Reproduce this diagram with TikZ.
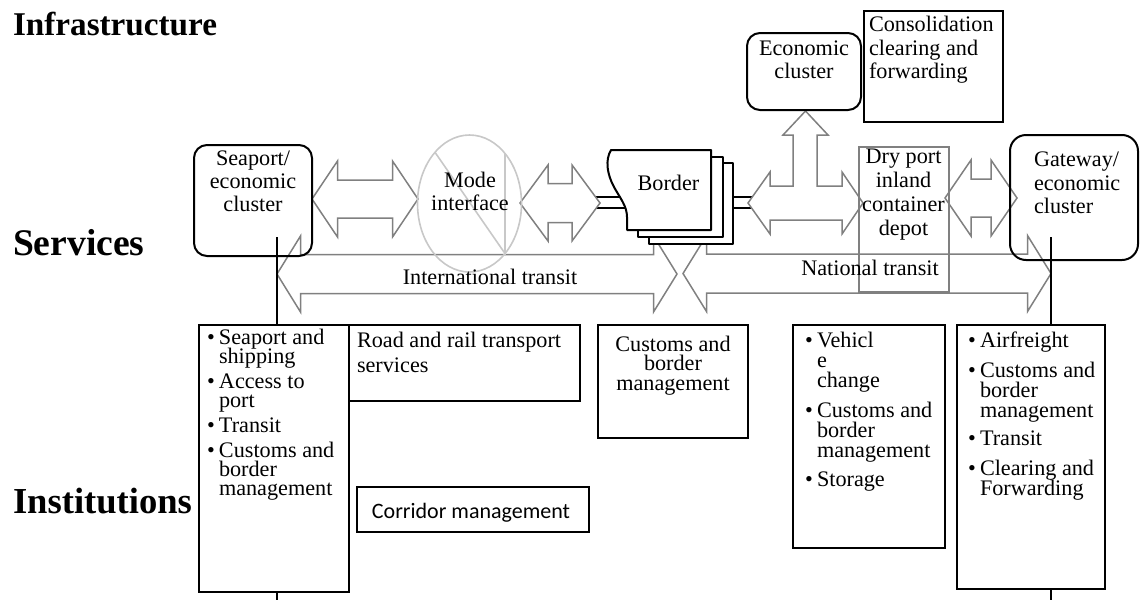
\documentclass[tikz,border=0pt]{standalone}
\usepackage{fontspec}
\setmainfont{Liberation Serif}
\newfontfamily\corridorfont{Carlito}
\usetikzlibrary{shapes.geometric}

\definecolor{arrowgray}{RGB}{128,128,128}
\definecolor{ringgray}{RGB}{200,200,200}

% stacked lines: first line sits on the node's base
\newcommand\LinesL[2]{\vtop{\baselineskip=#1\relax\lineskiplimit=-100pt\lineskip=0pt\halign{##\hfil\cr#2\crcr}}}
\newcommand\LinesC[2]{\vtop{\baselineskip=#1\relax\lineskiplimit=-100pt\lineskip=0pt\halign{\hfil##\hfil\cr#2\crcr}}}
\newcommand\bul{\makebox[6pt][l]{\textbullet}}
\newcommand\ind{\hspace*{6pt}}
\newcommand\gap[1]{\noalign{\vskip#1}}

% rectangle node given by its corners (x1,y1) (x2,y2)
\newcommand\boxnode[6][]{\node[#1, minimum width={(#5-#3)*0.5pt}, minimum height={(#6-#4)*0.5pt}] (#2) at ({(#3+#5)/2},{(#4+#6)/2}) {};}

% horizontal block double arrow: left tip, right tip, axis, shaft half, head half, head length
\newcommand\HDArrow[7][]{%
  \draw[blockarrow,#1] (#2,#4) -- ({#2+#7},{#4-#6}) -- ({#2+#7},{#4-#5}) -- ({#3-#7},{#4-#5})
    -- ({#3-#7},{#4-#6}) -- (#3,#4) -- ({#3-#7},{#4+#6}) -- ({#3-#7},{#4+#5})
    -- ({#2+#7},{#4+#5}) -- ({#2+#7},{#4+#6}) -- cycle;}

\begin{document}
\begin{tikzpicture}[x=0.5pt,y=-0.5pt,
  blockarrow/.style={draw=arrowgray, line width=0.75pt, line join=miter},
  bx/.style={rectangle, draw=black, line width=1pt, inner sep=0pt, outer sep=0pt},
  rbx/.style={bx, rounded corners=6.5pt},
  graybx/.style={bx, draw=arrowgray, line width=0.85pt},
  pagebx/.style={bx, fill=white, line width=1pt, line join=round},
  stem/.style={draw=black, line width=0.8pt},
  txt/.style={inner sep=0pt, outer sep=0pt, font=\fontsize{11.1}{13}\selectfont},
  hdr/.style={inner sep=0pt, outer sep=0pt, anchor=base west}]
\useasboundingbox (0,0) rectangle (1144,600);

% layer headings
\node[hdr, font=\fontsize{16.6}{20}\selectfont\bfseries] (infra) at (13,35.7) {Infrastructure};
\node[hdr, font=\fontsize{18.8}{22}\selectfont\bfseries] (serv) at (13,255.7) {Services};
\node[hdr, font=\fontsize{18.3}{22}\selectfont\bfseries] (inst) at (13,513) {Institutions};

% transit corridors
\HDArrow{277}{677}{274}{19.5}{38}{23.5}
\HDArrow{683}{1051}{273.5}{19.5}{38}{23.5}

% stems from the two end clusters
\coordinate (seaTop) at (277,237);
\coordinate (seaFoot) at (277,600);
\coordinate (gateTop) at (1051,237);
\coordinate (gateFoot) at (1051,600);
\draw[stem] (seaTop) -- (seaFoot);
\draw[stem] (gateTop) -- (gateFoot);

% institutions row
\boxnode[bx, fill=white]{bSea}{199}{325}{349}{592}
\boxnode[bx, fill=white]{bRoad}{349}{325}{580}{401}
\boxnode[bx, fill=white]{bCorr}{357}{487}{589}{532}
\boxnode[bx, fill=white]{bCust}{598}{325}{748}{438}
\boxnode[bx, fill=white]{bVeh}{793}{325}{945}{548}
\boxnode[bx, fill=white]{bAir}{957}{325}{1105}{589}

% double rail through the border post
\coordinate (railL) at (590,197);
\coordinate (railR) at (760,197);
\coordinate (railL2) at (590,208);
\coordinate (railR2) at (760,208);
\draw[black, line width=0.9pt] (railL) -- (railR);
\draw[black, line width=0.9pt] (railL2) -- (railR2);

% infrastructure row arrows
\HDArrow[fill=white]{312}{418}{199}{19}{38}{25.5}
\HDArrow[fill=white]{520}{600}{203}{19.5}{38}{28}
\HDArrow[fill=white]{945}{1017}{198}{19}{38}{26}
\draw[blockarrow, fill=white] (748,203) -- (770,172) -- (770,186) -- (793,186) -- (793,135)
  -- (783,135) -- (805.5,111) -- (828,135) -- (817,135) -- (817,186) -- (842,186)
  -- (842,172) -- (863,203) -- (842,234) -- (842,220) -- (770,220) -- (770,234) -- cycle;

% border post: stacked sheets
\boxnode[pagebx]{page3}{649}{163}{733}{244}
\boxnode[pagebx]{page2}{638}{157}{723}{237}
\draw[pagebx] (611,150) -- (711,150) -- (711,230) -- (627,230) -- (627,217)
  .. controls (627,206) and (620,198) .. (614,187)
  .. controls (607,174) and (605,160) .. (611,150) -- cycle;

% mode interface ring
\node[ellipse, draw=ringgray, line width=0.8pt, minimum width=52pt, minimum height=68.5pt, inner sep=0pt] (mode) at (469.5,203.5) {};
\coordinate (chordA) at (435,152.3);
\coordinate (chordB) at (505,253.5);
\coordinate (chordC) at (505,153.5);
\draw[ringgray, line width=0.8pt] (chordA) -- (chordB) -- (chordC);

% clusters and facilities
\boxnode[rbx]{seaport}{194}{145}{312}{256}
\boxnode[rbx, rounded corners=8pt]{gateway}{1010}{135}{1138}{260}
\boxnode[rbx]{econ}{747}{33}{861}{110}
\boxnode[bx]{consol}{864}{11}{1003}{122}
\boxnode[graybx]{drydepot}{859}{147}{949}{292}

% labels
\node[txt, anchor=base] (seaport-t) at (253,165) {\LinesC{11.7pt}{Seaport/\cr economic\cr cluster}};
\node[txt, anchor=base] (mode-t) at (470,187) {\LinesC{11.5pt}{Mode\cr interface}};
\node[txt, anchor=base] (border-t) at (668.5,190) {Border};
\node[txt, anchor=base] (econ-t) at (804,55) {\LinesC{11.6pt}{Economic\cr cluster}};
\node[txt, anchor=base west] (consol-t) at (869,31.7) {\LinesL{11.65pt}{Consolidation\cr clearing and\cr forwarding}};
\node[txt, anchor=base] (dry-t) at (903.5,163.5) {\LinesC{12pt}{Dry port\cr inland\cr container\cr depot}};
\node[txt, anchor=base west] (gateway-t) at (1034,166.7) {\LinesL{11.65pt}{Gateway/\cr economic\cr cluster}};
\node[txt, anchor=base] (intl-t) at (490,284) {International transit};
\node[txt, anchor=base] (natl-t) at (870,275) {National transit};

\node[txt, anchor=base west] (bSea-t) at (207,344) {\LinesL{9.5pt}{\bul Seaport and\cr\ind shipping\cr\gap{3pt}\bul Access to\cr\ind port\cr\gap{3pt}\bul Transit\cr\gap{3pt}\bul Customs and\cr\ind border\cr\ind management}};
\node[txt, anchor=base west] (bRoad-t) at (357,347) {\LinesL{12.5pt}{Road and rail transport\cr services}};
\node[inner sep=0pt, anchor=base, font=\corridorfont\fontsize{11}{13}\selectfont] (bCorr-t) at (471,518) {Corridor management};
\node[txt, anchor=base] (bCust-t) at (673,351) {\LinesC{9.85pt}{Customs and\cr border\cr management}};
\node[txt, anchor=base west] (bVeh-t) at (805,347) {\LinesL{10pt}{\bul Vehicl\cr\ind e\cr\ind change\cr\gap{5pt}\bul Customs and\cr\ind border\cr\ind management\cr\gap{4.5pt}\bul Storage}};
\node[txt, anchor=base west] (bAir-t) at (968,347) {\LinesL{10pt}{\bul Airfreight\cr\gap{5pt}\bul Customs and\cr\ind border\cr\ind management\cr\gap{4pt}\bul Transit\cr\gap{5pt}\bul Clearing and\cr\ind Forwarding}};
\end{tikzpicture}
\end{document}
